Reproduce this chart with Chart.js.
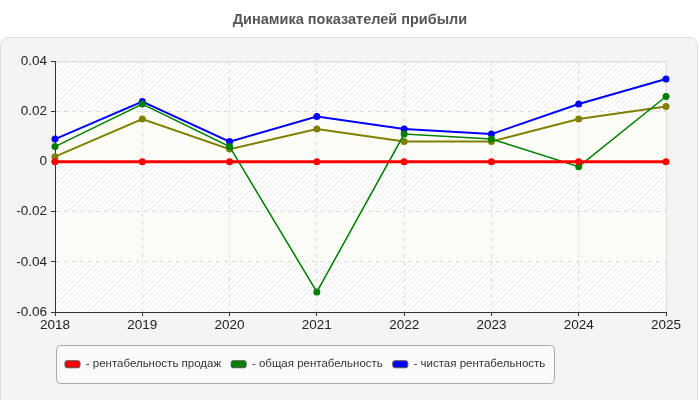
<!DOCTYPE html>
<html>
<head>
<meta charset="utf-8">
<script src="https://cdn.jsdelivr.net/npm/chart.js@4.4.1/dist/chart.umd.min.js"></script>
<style>
    html, body { margin: 0; padding: 0; background: #fff; }
    #wrap { width: 700px; height: 400px; }
</style>
</head>
<body>
<div id="wrap"><canvas id="profitChart"></canvas></div>
<script>
    // данные
    const years = ['2018', '2019', '2020', '2021', '2022', '2023', '2024', '2025'];
    const salesProfit = [0, 0, 0, 0, 0, 0, 0, 0];
    const totalProfit = [0.006, 0.023, 0.006, -0.052, 0.011, 0.009, -0.002, 0.026];
    const netProfit = [0.009, 0.024, 0.008, 0.018, 0.013, 0.011, 0.023, 0.033];
    const otherProfit = [0.002, 0.017, 0.005, 0.013, 0.008, 0.008, 0.017, 0.022];
    const yMin = -0.06, yMax = 0.04, yStep = 0.02;

    // узкий шрифт для легенды, если он есть
    const probe = document.createElement('canvas').getContext('2d');
    const widthIn = f => { probe.font = '20px ' + f; return probe.measureText('рентабельность продаж').width; };
    const hasNarrow = widthIn('"Liberation Sans Narrow", monospace') !== widthIn('monospace');
    const legendFont = hasNarrow
        ? { family: 'Liberation Sans Narrow', size: 13.5 }
        : { family: 'Liberation Sans', size: 11.5 };

    // штриховка
    const hatch = document.createElement('canvas');
    hatch.width = 5; hatch.height = 5;
    const hc = hatch.getContext('2d');
    hc.fillStyle = '#ffffff';
    hc.fillRect(0, 0, 5, 5);
    hc.strokeStyle = '#ebebeb';
    hc.lineWidth = 1;
    hc.beginPath();
    hc.moveTo(-1, 6); hc.lineTo(6, -1);
    hc.stroke();

    const backdrop = {
        id: 'backdrop',
        beforeDraw(chart) {
            const ctx = chart.ctx;
            const a = chart.chartArea;
            const y = chart.scales.y;
            ctx.save();
            ctx.fillStyle = '#fff';
            ctx.fillRect(0, 0, chart.width, chart.height);

            ctx.beginPath();
            ctx.roundRect(0.5, 37.5, chart.width - 3, chart.height + 10, 8);
            ctx.fillStyle = '#f4f4f4';
            ctx.fill();
            ctx.strokeStyle = '#dddddd';
            ctx.stroke();

            ctx.fillStyle = ctx.createPattern(hatch, 'repeat');
            ctx.fillRect(a.left, a.top, a.right - a.left, a.bottom - a.top);

            // полосы
            const ticks = y.ticks.map(t => t.value).sort((p, q) => q - p);
            for (let i = 0; i < ticks.length - 1; i++) {
                if (i % 2 === 1) {
                    const t = y.getPixelForValue(ticks[i]);
                    const b = y.getPixelForValue(ticks[i + 1]);
                    ctx.fillStyle = '#fdfdf7';
                    ctx.fillRect(a.left, t, a.right - a.left, b - t);
                }
            }
            ctx.strokeStyle = '#dddddd';
            ctx.lineWidth = 1;
            ctx.strokeRect(a.left + 0.5, a.top + 0.5, a.right - a.left, a.bottom - a.top);

            // рамка легенды
            const boxes = chart.legend.legendHitBoxes;
            if (boxes && boxes.length) {
                const l = Math.min(...boxes.map(b => b.left)) - 9;
                const r = Math.max(...boxes.map(b => b.left + b.width)) + 9;
                const mid = boxes[0].top + boxes[0].height / 2;
                ctx.beginPath();
                ctx.roundRect(Math.round(l) + 0.5, Math.round(mid - 19) + 0.5, Math.round(r - l), 38, 4);
                ctx.fillStyle = '#fafafa';
                ctx.fill();
                ctx.strokeStyle = '#aaaaaa';
                ctx.stroke();
            }
            ctx.restore();
        }
    };

    const mkSet = (label, data, color, width, order) => ({
        label: label,
        data: data,
        borderColor: color,
        backgroundColor: color,
        borderWidth: width,
        pointRadius: 3.5,
        pointHoverRadius: 4,
        pointBorderWidth: 0,
        tension: 0,
        order: order
    });

    const tickFont = { family: 'Liberation Sans', size: 13.5 };

    let profitCtx = document.getElementById('profitChart');

    let profitChart = new Chart(profitCtx, {
        type: 'line',
        data: {
            labels: years,
            datasets: [
                mkSet('- рентабельность продаж', salesProfit, '#ff0000', 3, 0),
                mkSet('- общая рентабельность', totalProfit, '#008000', 1.5, 1),
                mkSet('- чистая рентабельность', netProfit, '#0000ff', 2, 2),
                mkSet('', otherProfit, '#808000', 2, 3)
            ]
        },
        options: {
            responsive: true,
            maintainAspectRatio: false,
            animation: false,
            layout: { padding: { left: 0, right: 0, top: 0, bottom: 20 } },
            plugins: {
                title: {
                    display: true,
                    text: 'Динамика показателей прибыли',
                    color: '#555',
                    font: { family: 'Liberation Sans', size: 14.5, weight: 'bold' },
                    padding: { top: 11, bottom: 33 }
                },
                legend: {
                    position: 'bottom',
                    align: 'start',
                    fullSize: false,
                    labels: {
                        generateLabels: chart => Chart.defaults.plugins.legend.labels.generateLabels(chart)
                            .filter(item => item.text !== '')
                            .map(item => Object.assign(item, { lineWidth: 1, strokeStyle: '#555', borderRadius: 2 })),
                        boxWidth: 15,
                        boxHeight: 7,
                        color: '#333',
                        padding: 10,
                        font: legendFont
                    }
                },
                tooltip: { enabled: false }
            },
            scales: {
                x: {
                    offset: false,
                    grid: { color: '#dddddd', tickColor: '#333', tickLength: 4 },
                    border: { color: '#333', dash: [4, 4] },
                    ticks: { color: '#222', padding: 1, maxRotation: 0, font: tickFont },
                    afterFit: s => {
                        s.height = 48 - legendFont.size;
                        s.paddingRight = 34;
                    }
                },
                y: {
                    min: yMin,
                    max: yMax,
                    grid: { color: '#dddddd', tickColor: '#333', tickLength: 4 },
                    border: { color: '#333', dash: [4, 4] },
                    ticks: {
                        stepSize: yStep,
                        color: '#222',
                        padding: 4,
                        font: tickFont,
                        callback: v => String(Number(v.toFixed(2)))
                    },
                    afterFit: s => { s.width = 55; }
                }
            }
        },
        plugins: [backdrop]
    });
</script>
</body>
</html>
